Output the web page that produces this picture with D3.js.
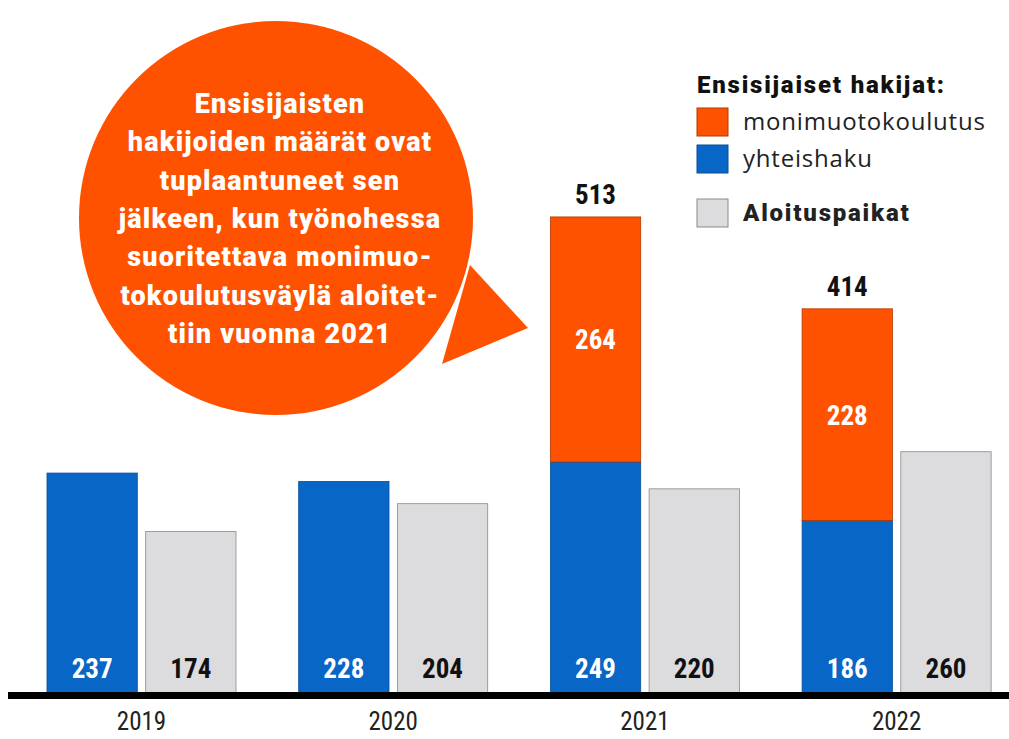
<!DOCTYPE html>
<html>
<head>
<meta charset="utf-8">
<script src="https://cdn.jsdelivr.net/npm/d3@7"></script>
<style>
  body { margin: 0; background: #fff; }
  svg { display: block; }
</style>
</head>
<body>
<svg id="chart" width="1009" height="739"></svg>
<script>
// data
const years = ["2019", "2020", "2021", "2022"];
const yhteishaku = [237, 228, 249, 186];
const monimuoto = [0, 0, 264, 228];
const aloituspaikat = [174, 204, 220, 260];
const bubbleLines = ["Ensisijaisten", "hakijoiden määrät ovat", "tuplaantuneet sen",
  "jälkeen, kun työnohessa", "suoritettava monimuo-", "tokoulutusväylä aloitet-", "tiin vuonna 2021"];
const legendTitle = "Ensisijaiset hakijat:";
const legendItems = ["monimuotokoulutus", "yhteishaku", "Aloituspaikat"];

const ORANGE = "#ff5200", BLUE = "#0866c6", GREY = "#dcdcde";

const svg = d3.select("#chart");
const font = '"Liberation Sans Narrow", "Roboto Condensed", Roboto, sans-serif';

// scales
const x0 = d3.scaleBand().domain(years).range([21.8, 1016.3]).paddingInner(0.249).paddingOuter(0.1);
const x1 = d3.scaleBand().domain(["hakijat", "paikat"]).range([0, x0.bandwidth()]).paddingInner(0.085);
const y = d3.scaleLinear().domain([0, 500]).range([693, 229]);

const rows = years.map((yr, i) => ({year: yr, blue: yhteishaku[i], orange: monimuoto[i], grey: aloituspaikat[i]}));

// speech bubble
const bub = svg.append("g");
const cx = 276, cy = 218, r = 197;
bub.append("path")
  .attr("d", `M 470 265 L 528 328 L 442 364 Z`)
  .attr("fill", ORANGE);
bub.append("circle").attr("cx", cx).attr("cy", cy).attr("r", r).attr("fill", ORANGE);
bub.selectAll("text").data(bubbleLines).join("text")
  .attr("x", 280)
  .attr("y", (d, i) => 113 + i * 38.3)
  .attr("text-anchor", "middle")
  .attr("fill", "#fff")
  .attr("font-family", "Roboto, sans-serif")
  .attr("font-weight", 900)
  .attr("font-size", 27)
  .attr("letter-spacing", 1.2)
  .text(d => d);

// bars
const g = svg.append("g").selectAll("g").data(rows).join("g")
  .attr("transform", d => `translate(${x0(d.year)},0)`);

g.append("rect")
  .attr("x", x1("hakijat")).attr("width", x1.bandwidth())
  .attr("y", d => y(d.blue)).attr("height", d => y(0) - y(d.blue))
  .attr("fill", BLUE).attr("stroke", "#0a4f96").attr("stroke-width", 0.8);

g.filter(d => d.orange > 0).append("rect")
  .attr("x", x1("hakijat")).attr("width", x1.bandwidth())
  .attr("y", d => y(d.blue + d.orange)).attr("height", d => y(d.blue) - y(d.blue + d.orange))
  .attr("fill", ORANGE).attr("stroke", "#b23a00").attr("stroke-width", 0.8);

g.append("rect")
  .attr("x", x1("paikat")).attr("width", x1.bandwidth())
  .attr("y", d => y(d.grey)).attr("height", d => y(0) - y(d.grey))
  .attr("fill", GREY).attr("stroke", "#8a8a8a").attr("stroke-width", 0.8);

// value labels
const lbl = (sel) => sel.attr("text-anchor", "middle").attr("font-family", font)
  .attr("font-weight", "bold").attr("font-size", 27);

lbl(g.append("text"))
  .attr("x", x1("hakijat") + x1.bandwidth() / 2).attr("y", 678)
  .attr("fill", "#fff").text(d => d.blue);
lbl(g.append("text"))
  .attr("x", x1("paikat") + x1.bandwidth() / 2).attr("y", 678)
  .attr("fill", "#111").text(d => d.grey);
lbl(g.filter(d => d.orange > 0).append("text"))
  .attr("x", x1("hakijat") + x1.bandwidth() / 2)
  .attr("y", d => (y(d.blue) + y(d.blue + d.orange)) / 2 + 10)
  .attr("fill", "#fff").text(d => d.orange);
lbl(g.filter(d => d.orange > 0).append("text"))
  .attr("x", x1("hakijat") + x1.bandwidth() / 2)
  .attr("y", d => y(d.blue + d.orange) - 13)
  .attr("fill", "#111").text(d => d.blue + d.orange);

// baseline
svg.append("rect").attr("x", 8).attr("y", 692).attr("width", 1001).attr("height", 7).attr("fill", "#000");

// year axis
const ax = svg.append("g").attr("transform", "translate(0,700)")
  .call(d3.axisBottom(x0).tickSize(0).tickPadding(12));
ax.select(".domain").remove();
ax.selectAll("text").attr("font-family", font).attr("font-size", 25).attr("fill", "#222");

// legend
const lg = svg.append("g");
lg.append("text").attr("x", 697).attr("y", 93)
  .attr("font-family", "Roboto, sans-serif").attr("font-weight", 900).attr("font-size", 24)
  .attr("letter-spacing", 1.8)
  .attr("fill", "#111").text(legendTitle);
const legendColors = [ORANGE, BLUE, GREY];
const legendStroke = ["#b23a00", "#0a4f96", "#8a8a8a"];
const legendY = [108, 145, 199];
lg.selectAll("rect").data(legendItems).join("rect")
  .attr("x", 697).attr("y", (d, i) => legendY[i]).attr("width", 31).attr("height", 28)
  .attr("fill", (d, i) => legendColors[i]).attr("stroke", (d, i) => legendStroke[i]);
lg.selectAll("text.item").data(legendItems).join("text").attr("class", "item")
  .attr("x", 743).attr("y", (d, i) => legendY[i] + 22)
  .attr("font-family", (d, i) => i === 2 ? "Roboto, sans-serif" : "'Open Sans', sans-serif")
  .attr("font-weight", (d, i) => i === 2 ? 900 : "normal")
  .attr("font-size", 24)
  .attr("letter-spacing", (d, i) => i === 2 ? 1.8 : 0.8)
  .attr("fill", "#222").text(d => d);
</script>
</body>
</html>
